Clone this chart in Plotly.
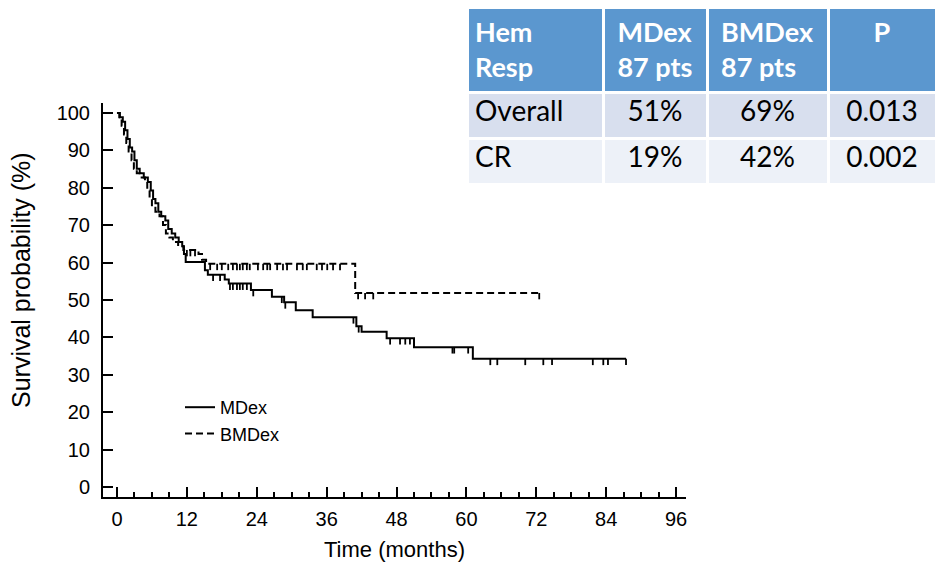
import numpy as np
import plotly.graph_objects as go

# Kaplan-Meier step data: time (months) at which survival (%) drops to the given level
mdex_time = [0, 0.5, 1.0, 1.4, 1.8, 2.2, 2.6, 3.0, 3.4, 3.9, 4.6, 5.3, 5.8, 6.2, 6.6,
             7.1, 7.6, 8.3, 8.8, 9.4, 10.0, 10.6, 11.2, 11.5, 11.8, 15.1, 15.6, 18.5,
             19.2, 23.0, 26.6, 28.7, 30.7, 33.6, 41.1, 42.0, 46.3, 51.0, 61.1]
mdex_surv = [100, 98.9, 97.7, 95.4, 93.1, 90.8, 89.7, 87.4, 85.1, 83.9, 82.8, 81.6, 79.3,
             77.0, 75.9, 73.6, 72.4, 71.3, 69.0, 67.8, 66.7, 65.5, 64.4, 62.3, 60.2, 58.0,
             56.8, 55.5, 54.4, 52.7, 50.9, 49.4, 47.3, 45.4, 43.0, 41.5, 39.8, 37.4, 34.3]
mdex_end = 87.4
mdex_censor = [16.5, 17.7, 19.4, 19.9, 20.6, 21.1, 21.6, 22.3, 23.4, 28.3, 28.9, 40.6,
               41.5, 46.9, 48.6, 49.5, 50.3, 57.6, 57.9, 60.3, 64.1, 65.3, 70.1, 73.2,
               74.7, 81.7, 83.5, 84.3, 87.4]

bmdex_time = [0, 0.4, 0.8, 1.2, 1.6, 2.0, 2.5, 2.9, 3.4, 4.0, 4.8, 5.2, 5.6, 6.0, 6.6,
              7.3, 7.9, 8.4, 9.0, 9.6, 10.5, 11.4, 14.0, 14.6, 15.3, 40.9]
bmdex_surv = [100, 98.9, 96.6, 94.3, 92.0, 89.7, 87.4, 85.1, 83.9, 82.8, 81.6, 79.3, 77.0,
              74.7, 73.6, 72.4, 70.1, 67.8, 66.7, 65.5, 64.4, 63.4, 62.3, 60.8, 59.7, 51.9]
bmdex_end = 72.5
bmdex_censor = [12.0, 12.6, 13.4, 16.0, 17.2, 18.0, 19.1, 19.9, 20.6, 21.1, 21.6, 22.3,
                22.8, 24.2, 25.1, 25.8, 26.3, 27.5, 28.5, 29.2, 30.9, 31.9, 32.6, 34.3,
                35.2, 36.1, 37.1, 38.3, 41.4, 42.6, 44.0, 72.5]

# Response table
table_header = ["Hem<br>Resp", "MDex<br>87 pts", "BMDex<br>87 pts", "P"]
resp_rows = ["Overall", "CR"]
mdex_resp = ["51%", "19%"]
bmdex_resp = ["69%", "42%"]
p_values = ["0.013", "0.002"]

x_ticks = list(range(0, 97, 12))
y_ticks = list(range(0, 101, 10))

CENSOR_DROP = 1.7  # length of censor marks, in survival-% units


def step_xy(times, surv, end):
    return list(times) + [end], list(surv) + [surv[-1]]


def censor_xy(times, surv, cens):
    t = np.asarray(times)
    s = np.asarray(surv)
    xs, ys = [], []
    for c in cens:
        lvl = float(s[np.searchsorted(t, c, side="right") - 1])
        xs += [c, c, None]
        ys += [lvl, lvl - CENSOR_DROP, None]
    return xs, ys


fig = go.Figure()

for name, times, surv, end, cens, dash in [
    ("MDex", mdex_time, mdex_surv, mdex_end, mdex_censor, "solid"),
    ("BMDex", bmdex_time, bmdex_surv, bmdex_end, bmdex_censor, "7px,4px"),
]:
    sx, sy = step_xy(times, surv, end)
    fig.add_trace(go.Scatter(x=sx, y=sy, mode="lines", name=name,
                             line=dict(color="black", width=2, shape="hv", dash=dash),
                             hoverinfo="skip"))
    cx, cy = censor_xy(times, surv, cens)
    fig.add_trace(go.Scatter(x=cx, y=cy, mode="lines", showlegend=False,
                             line=dict(color="black", width=1.8), hoverinfo="skip"))

header_cells = ["<b>%s</b>" % h for h in table_header]
fig.add_trace(go.Table(
    domain=dict(x=[467 / 936, 1.0], y=[0.3, 1 - 7 / 563]),
    columnwidth=[136, 104, 121, 108],
    header=dict(values=header_cells, height=85,
                fill_color="#5b97cf", line=dict(color="white", width=3),
                align=["left", "center", "center", "center"],
                font=dict(family="Lato", size=27, color="white")),
    cells=dict(values=[resp_rows, mdex_resp, bmdex_resp, p_values], height=46,
               fill_color=[["#d8dfee", "#edf1f8"]] * 4,
               line=dict(color="white", width=3),
               align=["left", "center", "center", "center"],
               font=dict(family="Lato", size=28, color="black")),
))

axis_common = dict(showline=True, linewidth=2, linecolor="black", ticks="inside",
                   ticklen=10, tickwidth=2, tickcolor="black", showgrid=False,
                   zeroline=False, automargin=False,
                   tickfont=dict(size=20, color="black"))

fig.update_layout(
    width=936, height=563,
    margin=dict(l=0, r=0, t=0, b=0),
    paper_bgcolor="white", plot_bgcolor="white",
    font=dict(family="Liberation Sans, Arial, sans-serif", color="black"),
    xaxis=dict(domain=[103 / 936, 686 / 936], range=[-2.4, 97.7], tickvals=x_ticks,
               minor=dict(dtick=3, tick0=0, ticks="inside", ticklen=5, tickwidth=1.5,
                          tickcolor="black", showgrid=False),
               ticklabelstandoff=3,
               title=dict(text="Time (months)", font=dict(size=22), standoff=13),
               **axis_common),
    yaxis=dict(domain=[1 - 497 / 563, 1 - 103 / 563], range=[-2.67, 102.7],
               tickvals=y_ticks, ticklabelstandoff=7, **axis_common),
    legend=dict(x=180 / 936, y=1 - 389 / 563, xanchor="left", yanchor="top",
                bgcolor="rgba(0,0,0,0)", font=dict(size=18), tracegroupgap=0),
    showlegend=True,
    annotations=[dict(text="Survival probability (%)", textangle=-90,
                      xref="paper", yref="paper", x=21 / 936, y=1 - 280 / 563,
                      xanchor="center", yanchor="middle", showarrow=False,
                      font=dict(size=25, color="black"))],
)

fig.write_html("out.html")
